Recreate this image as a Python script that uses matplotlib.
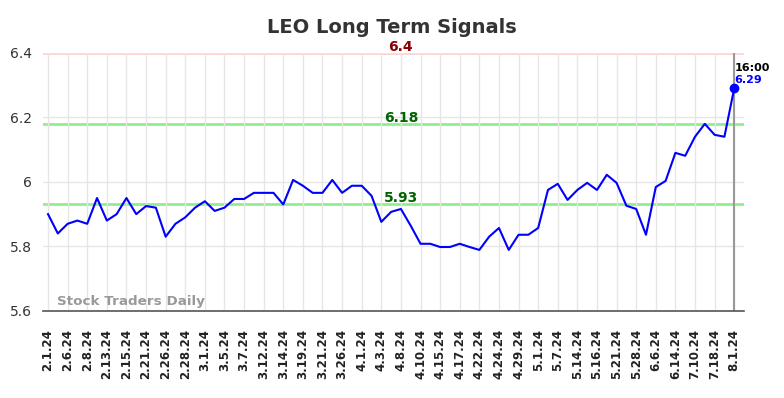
import numpy as np
import matplotlib
matplotlib.use("Agg")
import matplotlib.pyplot as plt

# Price series (one point per trading sample, labels every second point)
prices = [5.90, 5.84, 5.87, 5.88, 5.87, 5.95, 5.88, 5.90, 5.95, 5.90,
          5.925, 5.92, 5.83, 5.87, 5.89, 5.92, 5.94, 5.91, 5.92, 5.947,
          5.947, 5.966, 5.966, 5.966, 5.93, 6.006, 5.988, 5.966, 5.966, 6.006,
          5.966, 5.988, 5.988, 5.957, 5.876, 5.907, 5.916, 5.864, 5.808, 5.808,
          5.798, 5.798, 5.808, 5.798, 5.789, 5.83, 5.857, 5.789, 5.836, 5.836,
          5.857, 5.975, 5.994, 5.944, 5.975, 5.997, 5.975, 6.022, 5.997, 5.926,
          5.916, 5.836, 5.984, 6.003, 6.09, 6.081, 6.14, 6.18, 6.146, 6.14,
          6.29]

tickLabels = ["2.1.24", "2.6.24", "2.8.24", "2.13.24", "2.15.24", "2.21.24",
              "2.26.24", "2.28.24", "3.1.24", "3.5.24", "3.7.24", "3.12.24",
              "3.14.24", "3.19.24", "3.21.24", "3.26.24", "4.1.24", "4.3.24",
              "4.8.24", "4.10.24", "4.15.24", "4.17.24", "4.22.24", "4.24.24",
              "4.29.24", "5.1.24", "5.7.24", "5.14.24", "5.16.24", "5.21.24",
              "5.28.24", "6.6.24", "6.14.24", "7.10.24", "7.18.24", "8.1.24"]

upperLevel = 6.4
resistance = 6.18
support = 5.93
lastTime = "16:00"

#
# Plot
#

fig = plt.figure(figsize=(7.84, 3.98), dpi=100)
ax = fig.add_axes([0.055, 0.219, 0.894, 0.648])

x = np.arange(len(prices))

ax.axhline(upperLevel, color="#ffcccc", lw=2, zorder=1)
ax.axhline(resistance, color="#90ee90", lw=2, zorder=1)
ax.axhline(support, color="#90ee90", lw=2, zorder=1)

ax.plot(x, prices, color="blue", lw=1.5, zorder=3)
ax.plot(x[-1], prices[-1], "o", color="blue", ms=6, zorder=4)
ax.axvline(x[-1], color="#999999", lw=1.5, zorder=2)

ax.set_xlim(-0.5, 71)
ax.set_ylim(5.6, 6.4)
ax.set_yticks([5.6, 5.8, 6.0, 6.2, 6.4])
ax.set_yticklabels(["5.6", "5.8", "6", "6.2", "6.4"], fontsize=10, color="#333333")
ax.set_xticks(x[::2])
ax.set_xticklabels(tickLabels, rotation=90, fontsize=8.5, fontweight="bold",
                   color="#222222")
ax.tick_params(axis="y", length=0, pad=8)
ax.tick_params(axis="x", length=0, pad=13)

ax.grid(True, color="#e6e6e6", lw=1, zorder=0)
for s in ["top", "right", "left"]:
  ax.spines[s].set_visible(False)
ax.spines["bottom"].set_color("#555555")
ax.spines["bottom"].set_linewidth(1.2)

midX = 36
ax.text(midX, upperLevel - 0.002, "6.4", color="#8b0000", fontsize=10,
        fontweight="bold", ha="center", va="bottom")
ax.text(midX, resistance - 0.002, "6.18", color="#006400", fontsize=10,
        fontweight="bold", ha="center", va="bottom")
ax.text(midX, support - 0.002, "5.93", color="#006400", fontsize=10,
        fontweight="bold", ha="center", va="bottom")

ax.text(x[-1], 6.352, lastTime, color="black", fontsize=8, fontweight="bold",
        ha="left", va="center")
ax.text(x[-1], 6.316, "%.2f" % prices[-1], color="blue", fontsize=8,
        fontweight="bold", ha="left", va="center")

ax.text(0.9, 5.628, "Stock Traders Daily", color="#999999", fontsize=9.7,
        fontweight="bold", ha="left", va="center")

fig.suptitle("LEO Long Term Signals", fontsize=14, fontweight="bold",
             color="#333333", y=0.955)

fig.savefig("out.png", dpi=100)
